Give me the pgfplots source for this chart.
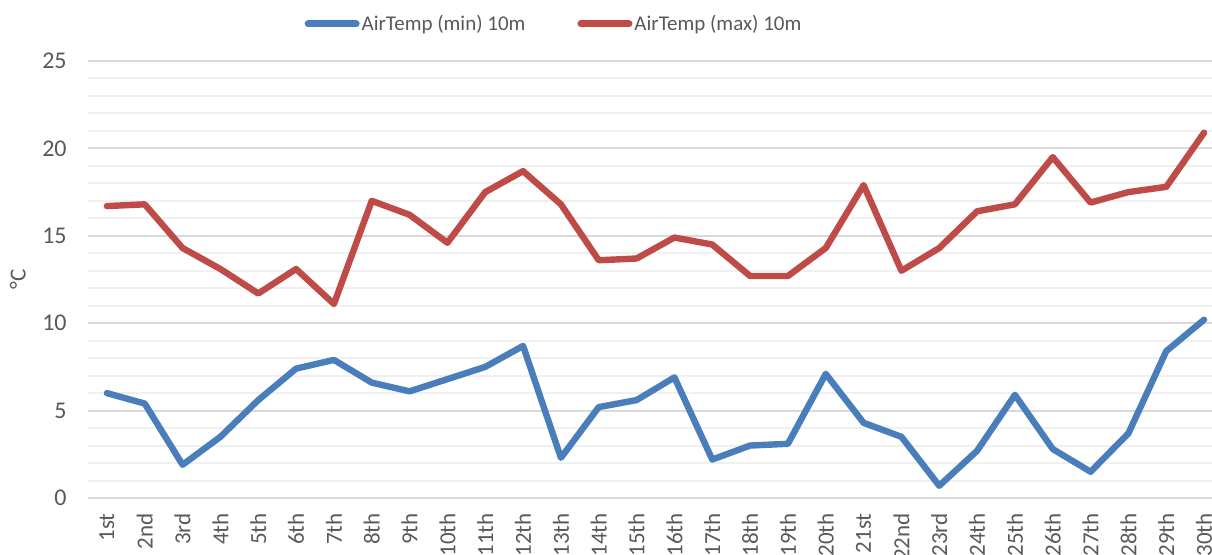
\documentclass[border=0pt]{standalone}
\usepackage{pgfplots}
\pgfplotsset{compat=1.18}
\usepackage{fontspec}
\setmainfont{Carlito}
\definecolor{blueS}{HTML}{4A7EBB}
\definecolor{redS}{HTML}{BE4B48}
\definecolor{txt}{HTML}{595959}
\definecolor{majg}{HTML}{D9D9D9}
\definecolor{ming}{HTML}{F0F0F0}
\begin{document}
\begin{tikzpicture}
\begin{axis}[
  at={(0,0)}, anchor=south west,
  scale only axis,
  width=567.5pt, height=218.5pt,
  xmin=0.5, xmax=30.5, ymin=0, ymax=25,
  axis line style={draw=none},
  tick style={draw=none},
  ytick={0,5,10,15,20,25},
  minor y tick num=4,
  ymajorgrids, yminorgrids,
  major grid style={majg, line width=1pt},
  minor grid style={ming, line width=1pt},
  xtick={1,...,30},
  xticklabels={1st,2nd,3rd,4th,5th,6th,7th,8th,9th,10th,11th,12th,13th,14th,15th,16th,17th,18th,19th,20th,21st,22nd,23rd,24th,25th,26th,27th,28th,29th,30th},
  xticklabel style={rotate=90, anchor=east, inner sep=0pt, text=txt, font=\fontsize{11.5}{13}\selectfont},
  xticklabel shift=7.5pt,
  yticklabel style={anchor=east, inner sep=0pt, text=txt, font=\fontsize{12}{14}\selectfont},
  yticklabel shift=10.5pt,
  /pgf/number format/assume math mode=true,
  ylabel={°C},
  ylabel style={at={(axis description cs:-0.0617,0.5)}, anchor=center, rotate=0, text=txt, font=\fontsize{11.5}{13}\selectfont},
  legend columns=2,
  legend style={draw=none, fill=none, at={(axis description cs:0.4106,1.0847)}, anchor=center,
    font=\fontsize{10.5}{12}\selectfont, text=txt,
    /tikz/every even column/.append style={column sep=25pt},
    nodes={inner sep=1pt}},
  legend image code/.code={\draw[#1, line cap=round, line width=3.5pt] (0pt,0pt) -- (24pt,0pt);},
  every axis plot/.append style={line width=3.2pt, line join=round, line cap=round, mark=none},
  clip=false,
]
\addplot[blueS] coordinates {
(1,6.0) (2,5.4) (3,1.9) (4,3.5) (5,5.6) (6,7.4) (7,7.9) (8,6.6) (9,6.1) (10,6.8)
(11,7.5) (12,8.7) (13,2.3) (14,5.2) (15,5.6) (16,6.9) (17,2.2) (18,3.0) (19,3.1) (20,7.1)
(21,4.3) (22,3.5) (23,0.7) (24,2.7) (25,5.9) (26,2.8) (27,1.5) (28,3.7) (29,8.4) (30,10.2)
};
\addlegendentry{AirTemp (min) 10m}
\addplot[redS] coordinates {
(1,16.7) (2,16.8) (3,14.3) (4,13.1) (5,11.7) (6,13.1) (7,11.1) (8,17.0) (9,16.2) (10,14.6)
(11,17.5) (12,18.7) (13,16.8) (14,13.6) (15,13.7) (16,14.9) (17,14.5) (18,12.7) (19,12.7) (20,14.3)
(21,17.9) (22,13.0) (23,14.3) (24,16.4) (25,16.8) (26,19.5) (27,16.9) (28,17.5) (29,17.8) (30,20.9)
};
\addlegendentry{AirTemp (max) 10m}
\end{axis}
\pgfresetboundingbox
\path[use as bounding box] (-44pt,-28.5pt) rectangle (562pt,249pt);
\end{tikzpicture}
\end{document}
